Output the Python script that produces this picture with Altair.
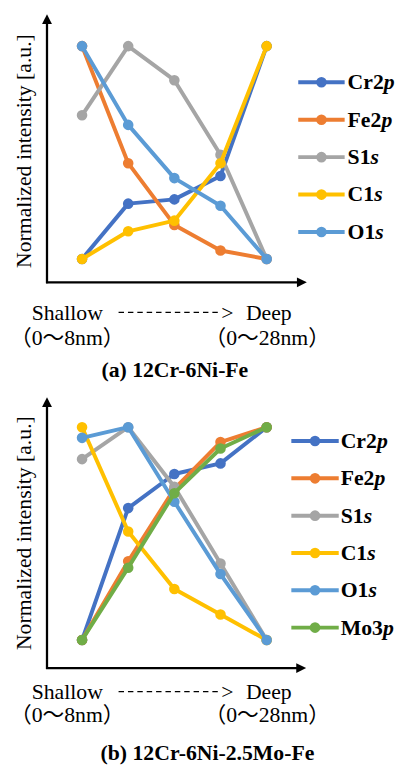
import altair as alt
import pandas as pd

# ---------------- data ----------------
depth_idx = [0, 1, 2, 3, 4]   # Shallow (0~8nm) -> Deep (0~28nm)

top_names = ["Cr2p", "Fe2p", "S1s", "C1s", "O1s"]
top_cr2p = [0.00, 0.26, 0.28, 0.39, 1.00]
top_fe2p = [1.00, 0.45, 0.16, 0.04, 0.00]
top_s1s = [0.675, 1.00, 0.84, 0.49, 0.00]
top_c1s = [0.00, 0.13, 0.18, 0.45, 1.00]
top_o1s = [1.00, 0.63, 0.38, 0.25, 0.00]

bot_names = ["Cr2p", "Fe2p", "S1s", "C1s", "O1s", "Mo3p"]
bot_cr2p = [0.00, 0.62, 0.78, 0.83, 1.00]
bot_fe2p = [0.00, 0.37, 0.71, 0.93, 1.00]
bot_s1s = [0.85, 1.00, 0.72, 0.36, 0.00]
bot_c1s = [1.00, 0.51, 0.24, 0.12, 0.00]
bot_o1s = [0.95, 1.00, 0.65, 0.31, 0.00]
bot_mo3p = [0.00, 0.34, 0.69, 0.90, 1.00]

colors = {"Cr2p": "#4472C4", "Fe2p": "#ED7D31", "S1s": "#A5A5A5",
          "C1s": "#FFC000", "O1s": "#5B9BD5", "Mo3p": "#70AD47"}

y_title = "Normalized intensity [a.u.]"
shallow_label = "Shallow"
deep_label = "Deep"
shallow_range = "（0～8nm）"
deep_range = "（0～28nm）"
title_a = "(a) 12Cr-6Ni-Fe"
title_b = "(b) 12Cr-6Ni-2.5Mo-Fe"

SERIF = "Liberation Serif, 'Times New Roman', 'Noto Sans CJK JP', serif"
FS = 22
W, H = 387, 755

# Times/Liberation Serif Bold advance widths (per 1000 em) for legend prefixes
BOLD_W = {"C": 722, "r": 444, "2": 500, "F": 611, "e": 444, "S": 556,
          "1": 500, "O": 778, "M": 944, "o": 500, "3": 500}


def text_width(s, size=FS):
    return sum(BOLD_W.get(ch, 500) for ch in s) * size / 1000.0


one = pd.DataFrame({"k": [0]})


def txt(s, x, y, align="left", weight="normal", angle=0, baseline="alphabetic", size=FS):
    kw = dict(align=align, baseline=baseline, font=SERIF, fontSize=size,
              fontWeight=weight, color="black", text=s)
    if angle:
        kw["angle"] = angle
    return alt.Chart(one).mark_text(**kw).encode(x=alt.value(x), y=alt.value(y))


def panel_layers(names, values, cfg):
    layers = []
    xs = alt.Scale(domain=[0, 4], range=[75, 262], nice=False, zero=False)
    ys = alt.Scale(domain=[0, 1], range=[cfg["y0"], cfg["y1"]], nice=False, zero=False)
    for name, vals in zip(names, values):
        df = pd.DataFrame({"depth": depth_idx, "value": vals, "series": name})
        base = alt.Chart(df).encode(
            x=alt.X("depth:Q", scale=xs, axis=None),
            y=alt.Y("value:Q", scale=ys, axis=None),
        )
        c = colors[name]
        layers.append(base.mark_line(color=c, strokeWidth=4, strokeJoin="round"))
        layers.append(base.mark_point(filled=True, size=115, color=c, opacity=1))

    # legend
    leg = pd.DataFrame({
        "series": names,
        "prefix": [n[:-1] for n in names],
        "suffix": [n[-1] for n in names],
        "ix": [cfg["lt"] + text_width(n[:-1]) for n in names],
    })
    ly = alt.Y("series:N", scale=alt.Scale(type="point", domain=names,
                                           range=[cfg["r0"], cfg["r1"]], padding=0), axis=None)
    lc = alt.Color("series:N", scale=alt.Scale(domain=names, range=[colors[n] for n in names]),
                   legend=None)
    lb = alt.Chart(leg)
    layers.append(lb.mark_rule(strokeWidth=4).encode(
        x=alt.value(cfg["l0"]), x2=alt.value(cfg["l1"]), y=ly, color=lc))
    layers.append(lb.mark_point(filled=True, size=115, opacity=1).encode(
        x=alt.value((cfg["l0"] + cfg["l1"]) / 2), y=ly, color=lc))
    layers.append(lb.mark_text(align="left", baseline="middle", font=SERIF, fontSize=FS,
                               fontWeight="bold", color="black").encode(
        x=alt.value(cfg["lt"]), y=ly, text="prefix:N"))
    layers.append(lb.mark_text(align="left", baseline="middle", font=SERIF, fontSize=FS,
                               fontWeight="bold", fontStyle="italic", color="black").encode(
        x=alt.X("ix:Q", scale=None), y=ly, text="suffix:N"))

    # axes with arrow heads
    ax = cfg["ax"]
    ay_top, ay_bot = cfg["ay_top"], cfg["ay_bot"]
    layers.append(alt.Chart(one).mark_rule(color="black", strokeWidth=2.3).encode(
        x=alt.value(ax), y=alt.value(ay_top + 8), y2=alt.value(ay_bot + 1)))
    layers.append(alt.Chart(one).mark_rule(color="black", strokeWidth=2.3).encode(
        x=alt.value(ax - 1), x2=alt.value(cfg["axr"] - 8), y=alt.value(ay_bot)))
    layers.append(alt.Chart(one).mark_point(shape="M0,-1L1,1L-1,1Z", filled=True, size=100,
                                            color="black", opacity=1).encode(
        x=alt.value(ax), y=alt.value(ay_top + 5)))
    layers.append(alt.Chart(one).mark_point(shape="M1,0L-1,-1L-1,1Z", filled=True, size=100,
                                            color="black", opacity=1).encode(
        x=alt.value(cfg["axr"] - 5), y=alt.value(ay_bot)))

    # axis title
    layers.append(txt(y_title, 23.7, cfg["ytc"], align="center", angle=270))

    # depth annotation
    b1 = cfg["b1"]
    layers.append(txt(shallow_label, 24, b1))
    layers.append(alt.Chart(one).mark_rule(color="black", strokeWidth=1.3,
                                           strokeDash=[5.5, 4]).encode(
        x=alt.value(112), x2=alt.value(216), y=alt.value(b1 - 7.5)))
    layers.append(txt(">", 216, b1))
    layers.append(txt(deep_label, 241, b1))
    layers.append(txt(shallow_range, 2, cfg["b2"]))
    layers.append(txt(deep_range, 199, cfg["b2"]))
    layers.append(txt(cfg["title"], cfg["tx"], cfg["b3"], align="center", weight="bold"))
    return layers


# all positions are in the single view's pixel space (page minus the 8px margin)
top_cfg = dict(y0=249.3, y1=33.7, r0=70.3, r1=222.0, l0=294, l1=341, lt=344,
               ax=39.5, ay_top=1.3, ay_bot=273, axr=302.7, ytc=140,
               b1=311, b2=336, b3=369, tx=169, title=title_a)
bot_cfg = dict(y0=635.3, y1=419.7, r0=433.7, r1=622.7, l0=287, l1=335, lt=337,
               ax=39.5, ay_top=389.3, ay_bot=663.7, axr=302, ytc=527,
               b1=695, b2=718, b3=757, tx=202, title=title_b)

layers = panel_layers(top_names, [top_cr2p, top_fe2p, top_s1s, top_c1s, top_o1s], top_cfg)
layers += panel_layers(bot_names, [bot_cr2p, bot_fe2p, bot_s1s, bot_c1s, bot_o1s, bot_mo3p],
                       bot_cfg)

chart = alt.layer(*layers).resolve_scale(
    x="independent", y="independent", color="independent"
).properties(width=W, height=H, padding=0, background="white").configure_view(stroke=None)

chart.save("out.html", embed_options={"renderer": "svg", "actions": False})
